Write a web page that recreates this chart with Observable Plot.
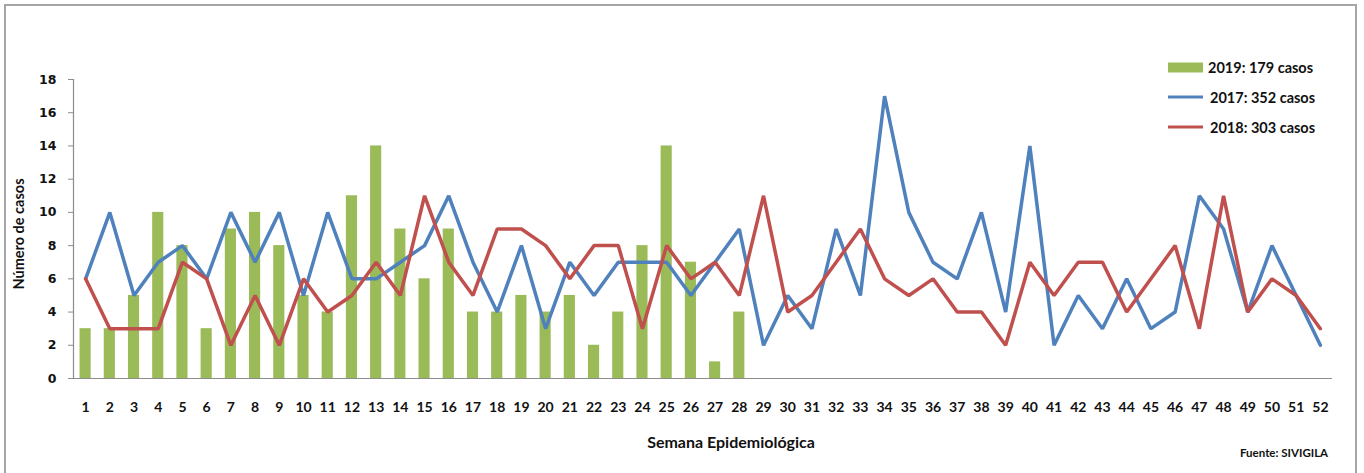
<!DOCTYPE html>
<html>
<head>
<meta charset="utf-8">
<script src="https://cdn.jsdelivr.net/npm/d3@7"></script>
<script src="https://cdn.jsdelivr.net/npm/@observablehq/plot@0.6"></script>
<style>
  html, body { margin: 0; padding: 0; background: #fff; }
  #wrap { position: relative; width: 1364px; height: 473px; overflow: hidden; font-family: Lato, "Open Sans", sans-serif; }
  #frame { position: absolute; left: 4px; top: 4px; width: 1353px; height: 480px; border: 2px solid #a6a6a6; box-sizing: border-box; }
  #chart { position: absolute; left: 0; top: 0; }
  .lbl { position: absolute; font-weight: bold; color: #111; white-space: nowrap; }
  #ytitle { left: 18px; top: 234px; transform: translate(-50%, -50%) rotate(-90deg); font-size: 14.5px; }
  #xtitle { left: 731px; top: 441px; transform: translate(-50%, -50%); font-size: 16px; }
  #fuente { left: 1240px; top: 452px; transform: translateY(-50%); font-size: 11.5px; }
  .leg { position: absolute; left: 1168px; display: flex; align-items: center; font-size: 14.5px; font-weight: bold; color: #111; white-space: nowrap; }
  .sw { width: 35px; margin-right: 5px; }
</style>
</head>
<body>
<div id="wrap">
  <div id="frame"></div>
  <div id="chart"></div>
  <div id="ytitle" class="lbl">Número de casos</div>
  <div id="xtitle" class="lbl">Semana Epidemiológica</div>
  <div id="fuente" class="lbl">Fuente: SIVIGILA</div>
</div>
<script>
const weeks = d3.range(1, 53);
const cases2019 = [3,3,5,10,8,3,9,10,8,5,4,11,14,9,6,9,4,4,5,4,5,2,4,8,14,7,1,4];
const cases2017 = [6,10,5,7,8,6,10,7,10,5,10,6,6,7,8,11,7,4,8,3,7,5,7,7,7,5,7,9,2,5,3,9,5,17,10,7,6,10,4,14,2,5,3,6,3,4,11,9,4,8,5,2];
const cases2018 = [6,3,3,3,7,6,2,5,2,6,4,5,7,5,11,7,5,9,9,8,6,8,8,3,8,6,7,5,11,4,5,7,9,6,5,6,4,4,2,7,5,7,7,4,6,8,3,11,4,6,5,3];
const yTicks = d3.range(0, 20, 2);
const series = [
  {label: "2019: 179 casos", color: "#9BBB59", kind: "bar"},
  {label: "2017: 352 casos", color: "#4F81BD", kind: "line"},
  {label: "2018: 303 casos", color: "#C0504D", kind: "line"}
];

const bars = cases2019.map((v, i) => ({week: weeks[i], value: v}));
const l2017 = cases2017.map((v, i) => ({week: weeks[i], value: v}));
const l2018 = cases2018.map((v, i) => ({week: weeks[i], value: v}));

const chart = Plot.plot({
  width: 1364,
  height: 473,
  marginLeft: 73,
  marginRight: 32,
  marginTop: 79,
  marginBottom: 95,
  style: {background: "transparent", overflow: "visible"},
  x: {type: "band", domain: weeks, paddingInner: 0.54, paddingOuter: 0.27, align: 0.5, round: false},
  y: {domain: [0, 18]},
  marks: [
    Plot.barY(bars, {x: "week", y: "value", fill: series[0].color}),
    Plot.lineY(l2017, {x: "week", y: "value", stroke: series[1].color, strokeWidth: 3.5, strokeLinejoin: "miter"}),
    Plot.lineY(l2018, {x: "week", y: "value", stroke: series[2].color, strokeWidth: 3.5, strokeLinejoin: "miter"}),
    Plot.axisY({ticks: yTicks, tickSize: 5, tickPadding: 12, stroke: "#8c8c8c", fill: "#111",
      fontSize: 12.5, fontWeight: "bold", fontFamily: "DejaVu Sans", label: null}),
    Plot.frame({anchor: "left", stroke: "#8c8c8c", strokeWidth: 1.2}),
    Plot.ruleY([0], {stroke: "#8c8c8c", strokeWidth: 1.2}),
    Plot.axisX({tickSize: 0, tickPadding: 24, fill: "#111", fontSize: 14, fontWeight: "bold",
      fontFamily: "Lato", label: null})
  ]
});
document.getElementById("chart").appendChild(chart);

const wrap = document.getElementById("wrap");
const legTops = [67, 97, 127];
series.forEach((s, i) => {
  const d = document.createElement("div");
  d.className = "leg";
  d.style.top = legTops[i] + "px";
  d.style.transform = "translateY(-50%)";
  const sw = document.createElement("div");
  sw.className = "sw";
  sw.style.height = s.kind === "bar" ? "10px" : "3px";
  sw.style.background = s.color;
  if (s.kind === "line") sw.style.marginRight = "7px";
  const t = document.createElement("span");
  t.textContent = s.label;
  d.appendChild(sw); d.appendChild(t);
  wrap.appendChild(d);
});
</script>
</body>
</html>
